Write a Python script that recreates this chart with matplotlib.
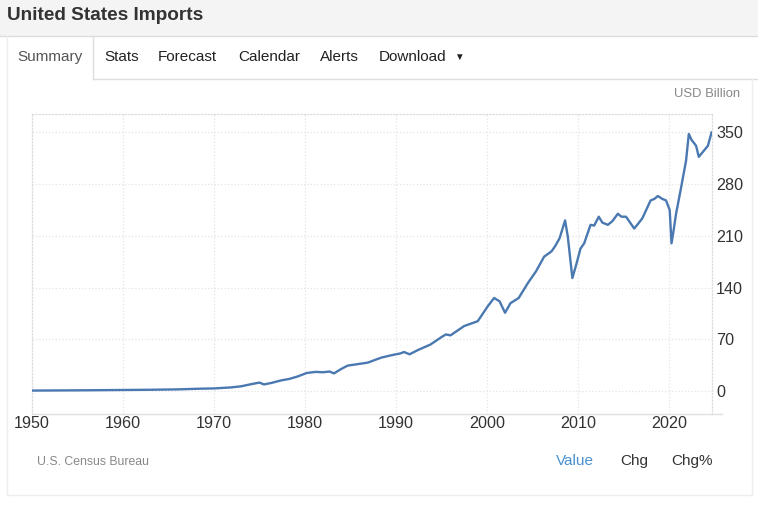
import numpy as np
import matplotlib
matplotlib.use("Agg")
import matplotlib.pyplot as plt
from matplotlib.patches import Rectangle
from matplotlib.lines import Line2D

plt.rcParams["font.family"] = ["Liberation Sans", "DejaVu Sans"]

# -----------------------
# Data (USD Billion, monthly imports)
# -----------------------
years = [
    1950.0, 1953.0, 1956.0, 1960.0, 1963.0, 1966.0, 1968.6, 1970.0, 1971.9,
    1973.0, 1974.1, 1975.0, 1975.5, 1976.3, 1977.4, 1978.3, 1979.2, 1980.2,
    1981.2, 1982.0, 1982.7, 1983.2, 1984.0, 1984.7, 1985.8, 1986.9, 1988.0,
    1988.4, 1989.5, 1990.5, 1990.9, 1991.5, 1992.5, 1993.8, 1995.0, 1995.5,
    1996.0, 1997.5, 1999.0, 2000.1, 2000.8, 2001.4, 2002.0, 2002.6, 2003.5,
    2004.5, 2005.4, 2006.3, 2007.1, 2007.5, 2008.0, 2008.6, 2008.9, 2009.4,
    2009.8, 2010.3, 2010.7, 2011.4, 2011.8, 2012.3, 2012.7, 2013.3, 2013.8,
    2014.4, 2014.8, 2015.3, 2016.2, 2016.6, 2017.1, 2018.0, 2018.4, 2018.8,
    2019.3, 2019.7, 2020.1, 2020.3, 2020.5, 2020.8, 2021.3, 2021.9, 2022.2,
    2022.5, 2023.0, 2023.3, 2023.9, 2024.3, 2024.7,
]
values = [
    0.7, 0.9, 1.1, 1.5, 1.8, 2.3, 3.3, 3.6, 5.0,
    6.5, 9.4, 11.5, 9.0, 11.0, 14.5, 16.5, 19.8, 24.5,
    26.0, 25.5, 26.5, 24.0, 30.0, 34.5, 36.5, 38.5, 43.5,
    45.3, 48.5, 51.0, 52.9, 49.8, 56.0, 63.0, 73.0, 76.7,
    75.4, 88.0, 94.6, 114.8, 126.0, 121.5, 106.0, 119.0, 126.0,
    146.0, 162.0, 182.0, 189.0, 196.0, 207.0, 231.0, 209.0, 153.0,
    170.0, 193.0, 200.0, 225.0, 224.0, 236.0, 228.0, 225.0, 230.0,
    240.0, 236.0, 236.0, 220.0, 226.0, 234.0, 258.0, 260.0, 264.0,
    260.0, 258.0, 245.0, 200.0, 215.0, 240.0, 272.0, 312.0, 348.0,
    340.0, 332.0, 317.0, 326.0, 332.0, 350.0,
]

x_ticks = [1950, 1960, 1970, 1980, 1990, 2000, 2010, 2020]
y_ticks = [0, 70, 140, 210, 280, 350]
tabs = ["Summary", "Stats", "Forecast", "Calendar", "Alerts", "Download"]
tab_x = [17, 104, 158, 238, 320, 379]

W, H = 758, 520


def fx(px):
    return px / W


def fy(py):
    return 1 - py / H


fig = plt.figure(figsize=(W / 100, H / 100), dpi=100, facecolor="white")

# -----------------------
# Page chrome
# -----------------------
fig.patches.append(Rectangle((0, fy(36)), 1, 36 / H, transform=fig.transFigure,
                             facecolor="#f4f4f4", edgecolor="none", zorder=0))
border = "#dddddd"
fig.lines.append(Line2D([0, 1], [fy(36), fy(36)], transform=fig.transFigure, color=border, lw=1))
# Summary tab box
fig.patches.append(Rectangle((fx(7), fy(80)), fx(86), 44 / H, transform=fig.transFigure,
                             facecolor="white", edgecolor="none", zorder=1))
fig.lines.append(Line2D([fx(7), fx(7)], [fy(36), fy(495)], transform=fig.transFigure, color="#eeeeee", lw=1))
fig.lines.append(Line2D([fx(93), fx(93)], [fy(36), fy(79)], transform=fig.transFigure, color=border, lw=1))
fig.lines.append(Line2D([fx(93), 1], [fy(79), fy(79)], transform=fig.transFigure, color=border, lw=1))
fig.lines.append(Line2D([fx(752), fx(752)], [fy(79), fy(495)], transform=fig.transFigure, color="#eeeeee", lw=1))
fig.lines.append(Line2D([fx(7), fx(752)], [fy(495), fy(495)], transform=fig.transFigure, color="#eeeeee", lw=1))

fig.text(fx(7), fy(16), "United States Imports", fontsize=13.7, fontweight="bold",
         color="#333333", va="center", ha="left")
for name, x in zip(tabs, tab_x):
    fig.text(fx(x), fy(57), name, fontsize=11, color="#555555" if name == "Summary" else "#222222",
             va="center", ha="left")
fig.text(fx(454), fy(57), "\u25BC", fontsize=7, color="#222222", va="center", ha="left")

fig.text(fx(740), fy(94), "USD Billion", fontsize=9.4, color="#888888", va="center", ha="right")
fig.text(fx(37), fy(462), "U.S. Census Bureau", fontsize=8.8, color="#888888", va="center", ha="left")
fig.text(fx(556), fy(461), "Value", fontsize=11, color="#4a90d0", va="center", ha="left")
fig.text(fx(620), fy(461), "Chg", fontsize=11, color="#333333", va="center", ha="left")
fig.text(fx(671), fy(461), "Chg%", fontsize=11, color="#333333", va="center", ha="left")

# -----------------------
# Chart
# -----------------------
ax = fig.add_axes([fx(32), fy(414), fx(680), 300 / H])
ax.set_facecolor("white")
ax.plot(years, values, color="#4a78b0", lw=1.7, solid_joinstyle="round", zorder=3)

ax.set_xlim(1950, 2024.75)
ax.set_ylim(-31, 375)
ax.set_xticks(x_ticks)
ax.set_yticks(y_ticks)
ax.yaxis.tick_right()
ax.tick_params(axis="both", length=0, labelsize=11.6, labelcolor="#333333")
ax.tick_params(axis="x", pad=1.5)
ax.tick_params(axis="y", pad=3)
ax.grid(True, color="#e4e4e4", linestyle=":", linewidth=0.9)
ax.set_axisbelow(True)

for side in ["left", "top", "right"]:
    ax.spines[side].set_linestyle(":")
    ax.spines[side].set_color("#dddddd")
    ax.spines[side].set_linewidth(0.9)
ax.spines["bottom"].set_color("#e0e0e0")
ax.spines["bottom"].set_linewidth(1)
fig.lines.append(Line2D([fx(712), fx(722)], [fy(414), fy(414)], transform=fig.transFigure,
                        color="#e0e0e0", lw=1))

fig.savefig("out.png", dpi=100, facecolor="white")
